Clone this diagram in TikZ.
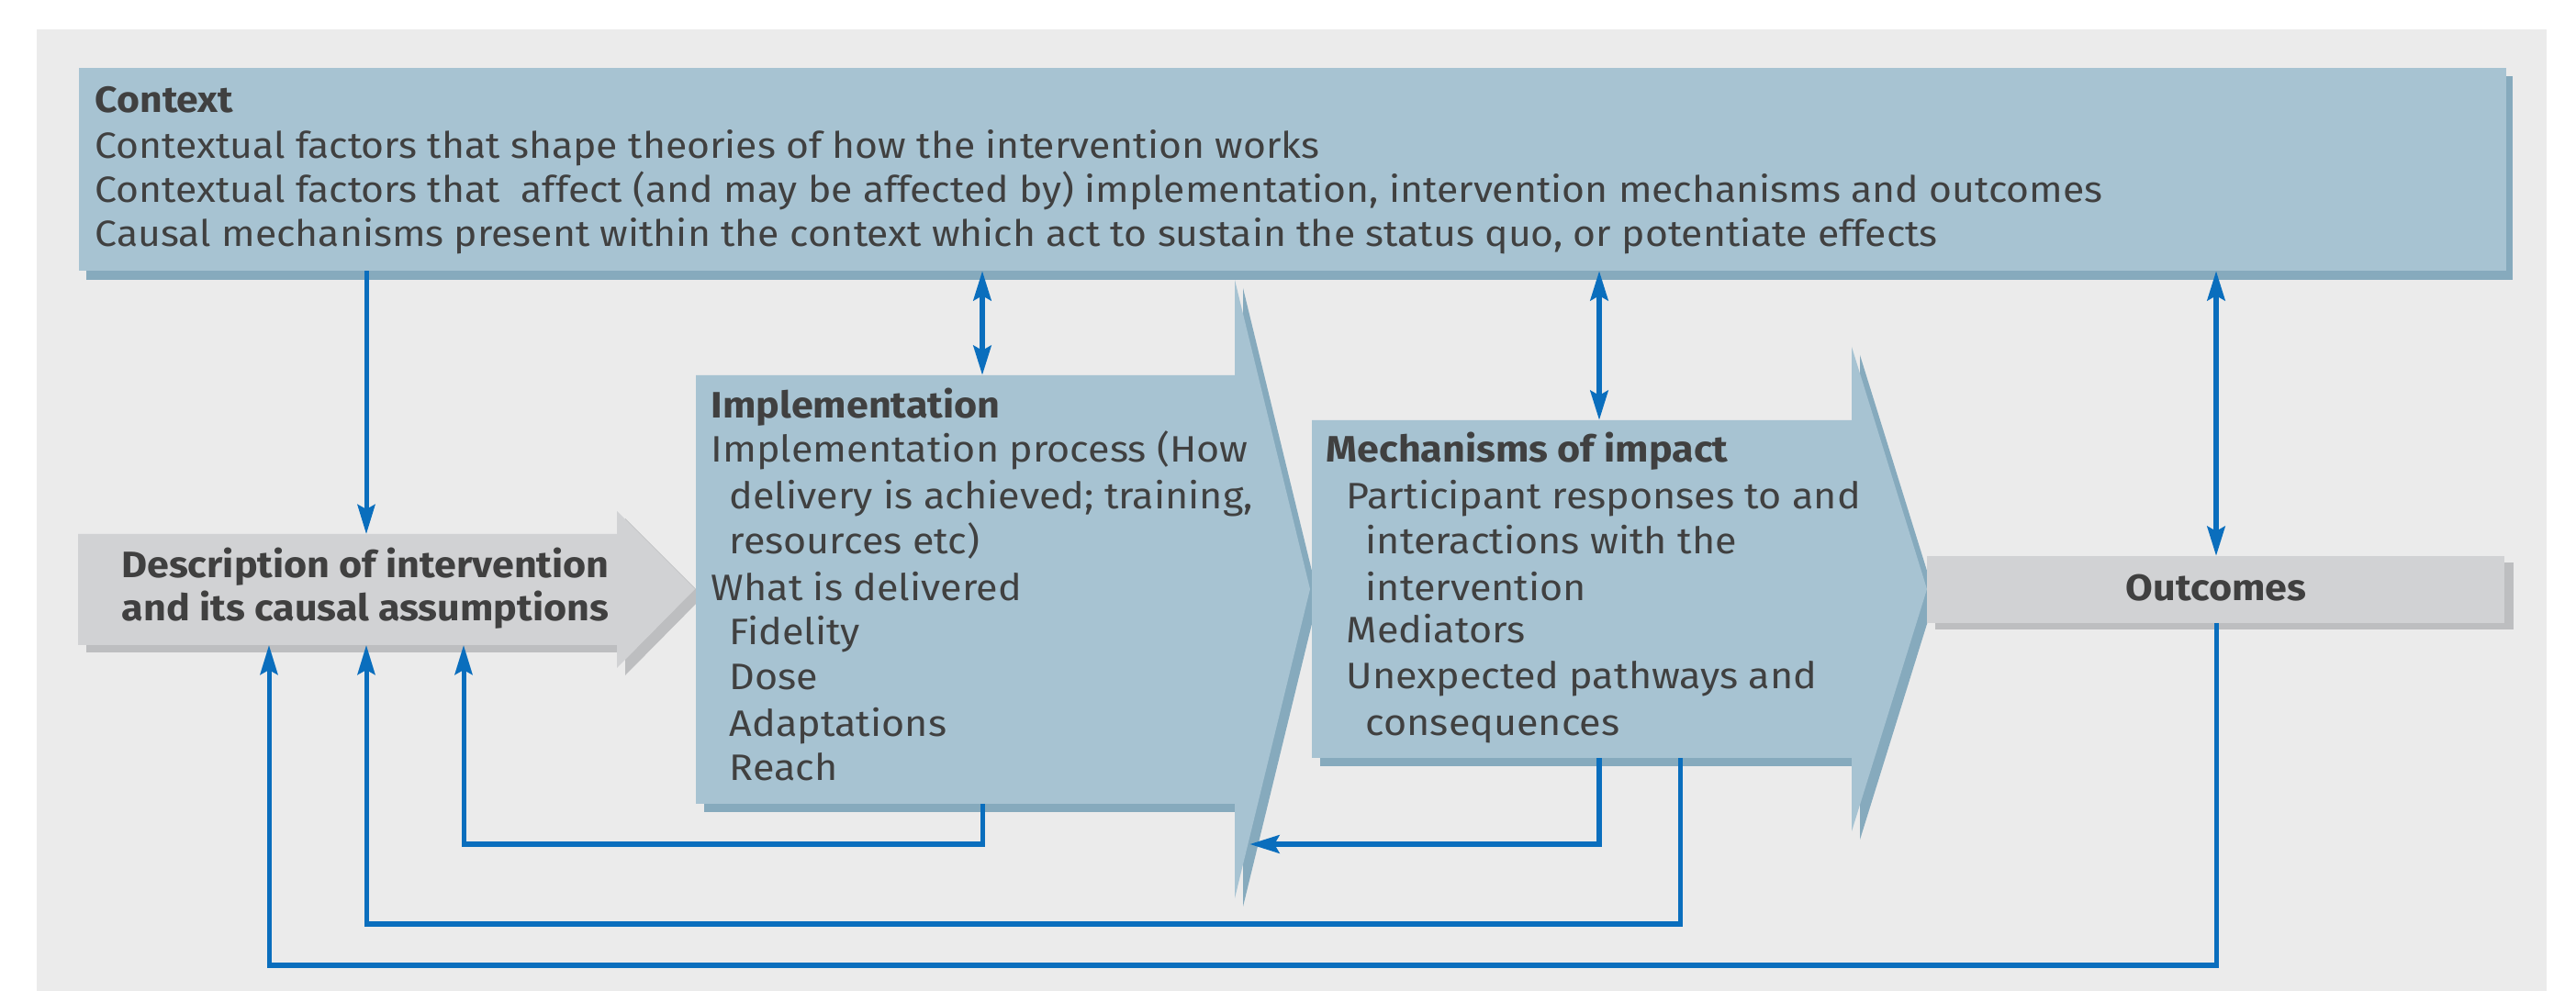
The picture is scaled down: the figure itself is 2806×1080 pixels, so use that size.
\documentclass[tikz,border=0pt]{standalone}
\usepackage{fontspec}
\setmainfont[FakeStretch=1.075]{Fira Sans}
\usetikzlibrary{arrows.meta}
\definecolor{panel}{HTML}{EBEBEB}
\definecolor{boxblue}{HTML}{A7C3D2}
\definecolor{boxshade}{HTML}{86AABD}
\definecolor{grayfill}{HTML}{D1D2D4}
\definecolor{grayshade}{HTML}{BDBEC0}
\definecolor{linkblue}{HTML}{0A6EBD}
\definecolor{txt}{HTML}{404040}
\newcommand\ctxsize{\fontsize{11.3pt}{13pt}\selectfont}
\newcommand\bodysize{\fontsize{11.4pt}{13pt}\selectfont}
\begin{document}
\begin{tikzpicture}[x=0.01cm, y=-0.01cm,
  >={Stealth[length=0.32cm, width=0.19cm, inset=0.05cm]},
  ctxline/.style={anchor=base west, inner sep=0, text=txt, font=\ctxsize},
  bodyline/.style={anchor=base west, inner sep=0, text=txt, font=\bodysize},
  centerline/.style={anchor=base, inner sep=0, text=txt, font=\bodysize\bfseries},
  holder/.style={inner sep=0, outer sep=0, anchor=north west},
  conn/.style={draw=linkblue, line width=0.05cm, ->},
  connthick/.style={draw=linkblue, line width=0.068cm, ->},
  both/.style={draw=linkblue, line width=0.062cm, <->}
]
\useasboundingbox (0,0) rectangle (2806,1080);
\fill[white] (0,0) rectangle (2806,1080);
\fill[panel] (40,32) rectangle (2774,1080);

% Context box
\fill[boxshade] (94,83) rectangle (2737,305);
\node[holder, fill=boxblue, minimum width=26.42cm, minimum height=2.21cm] (ctx) at (86,74) {};
\node[ctxline, font=\ctxsize\bfseries] (ctx1) at (103,123) {Context};
\node[ctxline] (ctx2) at (103,173) {Contextual factors that shape theories of how the intervention works};
\node[ctxline] (ctx3) at (103,221) {Contextual factors that\ \ affect (and may be affected by) implementation, intervention mechanisms and outcomes};
\node[ctxline] (ctx4) at (103,269) {Causal mechanisms present within the context which act to sustain the status quo, or potentiate effects};

% Description arrow
\fill[grayshade] (94,590) -- (681,590) -- (681,565) -- (766,650) -- (681,736) -- (681,711) -- (94,711) -- cycle;
\fill[grayfill] (85,582) -- (672,582) -- (672,557) -- (757,642) -- (672,728) -- (672,703) -- (85,703) -- cycle;
\node[holder, minimum width=5.87cm, minimum height=1.21cm] (desc) at (85,582) {};
\node[centerline] (desc1) at (398,630) {Description of intervention};
\node[centerline] (desc2) at (398,677) {and its causal assumptions};

% Implementation chevron
\fill[boxshade] (767,418) -- (1354,418) -- (1354,314) -- (1436,651) -- (1354,988) -- (1354,885) -- (767,885) -- cycle;
\fill[boxblue] (758,409) -- (1345,409) -- (1345,305) -- (1427,642) -- (1345,979) -- (1345,876) -- (758,876) -- cycle;
\node[holder, minimum width=5.87cm, minimum height=4.67cm] (impl) at (758,409) {};
\node[bodyline, font=\bodysize\bfseries] (impl1) at (774,456) {Implementation};
\node[bodyline] (impl2) at (774,504) {Implementation process (How};
\node[bodyline] (impl3) at (794,555) {delivery is achieved; training,};
\node[bodyline] (impl4) at (794,604) {resources etc)};
\node[bodyline] (impl5) at (774,655) {What is delivered};
\node[bodyline] (impl6) at (794,703) {Fidelity};
\node[bodyline] (impl7) at (794,752) {Dose};
\node[bodyline] (impl8) at (794,803) {Adaptations};
\node[bodyline] (impl9) at (794,851) {Reach};
\coordinate (implhead) at (1361,920);

% Mechanisms chevron
\fill[boxshade] (1438,467) -- (2026,467) -- (2026,387) -- (2108,651) -- (2026,915) -- (2026,835) -- (1438,835) -- cycle;
\fill[boxblue] (1429,458) -- (2017,458) -- (2017,378) -- (2099,642) -- (2017,906) -- (2017,826) -- (1429,826) -- cycle;
\node[holder, minimum width=5.88cm, minimum height=3.68cm] (mech) at (1429,458) {};
\node[bodyline, font=\bodysize\bfseries] (mech1) at (1444,504) {Mechanisms of impact};
\node[bodyline] (mech2) at (1466,555) {Participant responses to and};
\node[bodyline] (mech3) at (1487,604) {interactions with the};
\node[bodyline] (mech4) at (1487,655) {intervention};
\node[bodyline] (mech5) at (1466,701) {Mediators};
\node[bodyline] (mech6) at (1466,751) {Unexpected pathways and};
\node[bodyline] (mech7) at (1487,802) {consequences};

% Outcomes
\fill[grayshade] (2108,613) rectangle (2738,686);
\node[holder, fill=grayfill, minimum width=6.29cm, minimum height=0.73cm] (out) at (2099,606) {};
\node[centerline] (out1) at (2414,655) {Outcomes};

% connector positions
\coordinate (xa) at (399,0);
\coordinate (xb) at (505,0);
\coordinate (xc) at (293,0);
\coordinate (xi) at (1070,0);
\coordinate (xm) at (1742,0);
\coordinate (xn) at (1830,0);
\coordinate (xo) at (2414,0);
\coordinate (ra) at (0,920);
\coordinate (rb) at (0,1007);
\coordinate (rc) at (0,1052);

\draw[conn] (ctx.south -| xa) -- (desc.north -| xa);
\draw[both] (ctx.south -| xi) -- (impl.north -| xi);
\draw[both] (ctx.south -| xm) -- (mech.north -| xm);
\draw[both] (ctx.south -| xo) -- (out.north -| xo);
\draw[conn] (impl.south -| xi) -- (xi |- ra) -- (xb |- ra) -- (desc.south -| xb);
\draw[connthick] (mech.south -| xm) -- (xm |- ra) -- (implhead);
\draw[conn] (mech.south -| xn) -- (xn |- rb) -- (xa |- rb) -- (desc.south -| xa);
\draw[conn] (out.south -| xo) -- (xo |- rc) -- (xc |- rc) -- (desc.south -| xc);
\end{tikzpicture}
\end{document}
